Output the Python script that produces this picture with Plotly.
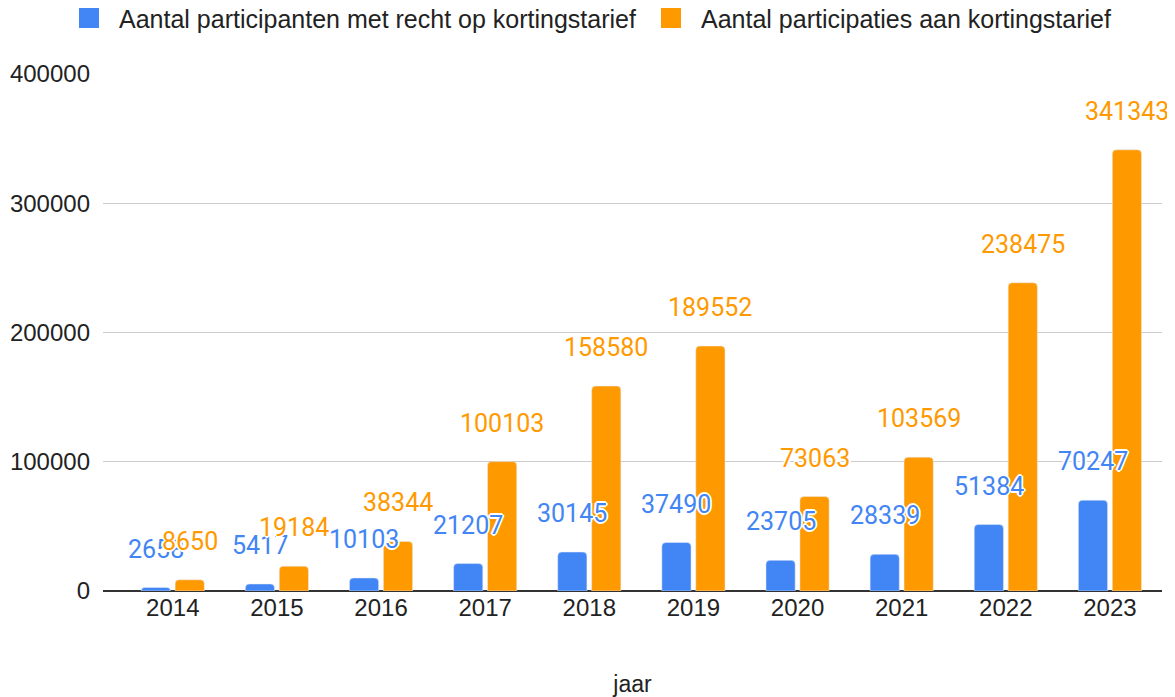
import plotly.graph_objects as go

years = ["2014", "2015", "2016", "2017", "2018", "2019", "2020", "2021", "2022", "2023"]
participanten = [2658, 5417, 10103, 21207, 30145, 37490, 23705, 28339, 51384, 70247]
participaties = [8650, 19184, 38344, 100103, 158580, 189552, 73063, 103569, 238475, 341343]
series_names = ["Aantal participanten met recht op kortingstarief",
                "Aantal participaties aan kortingstarief"]
y_ticks = [0, 100000, 200000, 300000, 400000]

BLUE = "#4285F4"
ORANGE = "#FF9900"
LABEL_FONT = "Roboto"
AXIS_FONT = "Liberation Sans, Arial"
HALO = ("2px 0 0 white, -2px 0 0 white, 0 2px 0 white, 0 -2px 0 white, "
        "1px 1px 0 white, -1px -1px 0 white, 1px -1px 0 white, -1px 1px 0 white")

fig = go.Figure()
for name, vals, col in [(series_names[0], participanten, BLUE),
                        (series_names[1], participaties, ORANGE)]:
    fig.add_trace(go.Bar(x=years, y=vals, name=name, marker=dict(color=col, cornerradius=4),
                         showlegend=False, hoverinfo="x+y"))
    fig.add_trace(go.Scatter(x=[None], y=[None], mode="markers", name=name,
                             marker=dict(symbol="square", size=16, color=col,
                                         line=dict(color=col, width=4))))

annotations = []
for vals, col, shift in [(participanten, BLUE, -17), (participaties, ORANGE, 17)]:
    for i, v in enumerate(vals):
        annotations.append(dict(x=i, y=v, xref="x", yref="y", text=str(v), showarrow=False,
                                xshift=shift, yshift=22, yanchor="bottom",
                                font=dict(family=LABEL_FONT, size=25, color=col, shadow=HALO)))

# the page body adds an 8px offset, so the figure is sized to fill the rest of the window
fig.update_layout(
    width=1167, height=689,
    margin=dict(l=95, r=13, t=66, b=106, autoexpand=False),
    paper_bgcolor="white", plot_bgcolor="white",
    barmode="group", bargap=0.348, bargroupgap=0.14,
    font=dict(family=AXIS_FONT, size=24, color="#222222"),
    legend=dict(orientation="h", xref="container", yref="container", x=0.497, y=0.985,
                xanchor="center", yanchor="middle", font=dict(size=25, color="#222222"),
                itemwidth=50),
    annotations=annotations,
    xaxis=dict(type="category", range=[-0.67, 9.5], showgrid=False, ticks="",
               automargin=False,
               title=dict(text="jaar", font=dict(size=23), standoff=56),
               tickfont=dict(size=24)),
    yaxis=dict(range=[0, 400000], tickvals=y_ticks, ticktext=[str(t) for t in y_ticks],
               automargin=False,
               gridcolor="#CCCCCC", gridwidth=1.3, zeroline=True, zerolinecolor="#333333",
               zerolinewidth=2, ticks="", tickfont=dict(size=24), ticklabelstandoff=12),
)

fig.write_html("out.html")
